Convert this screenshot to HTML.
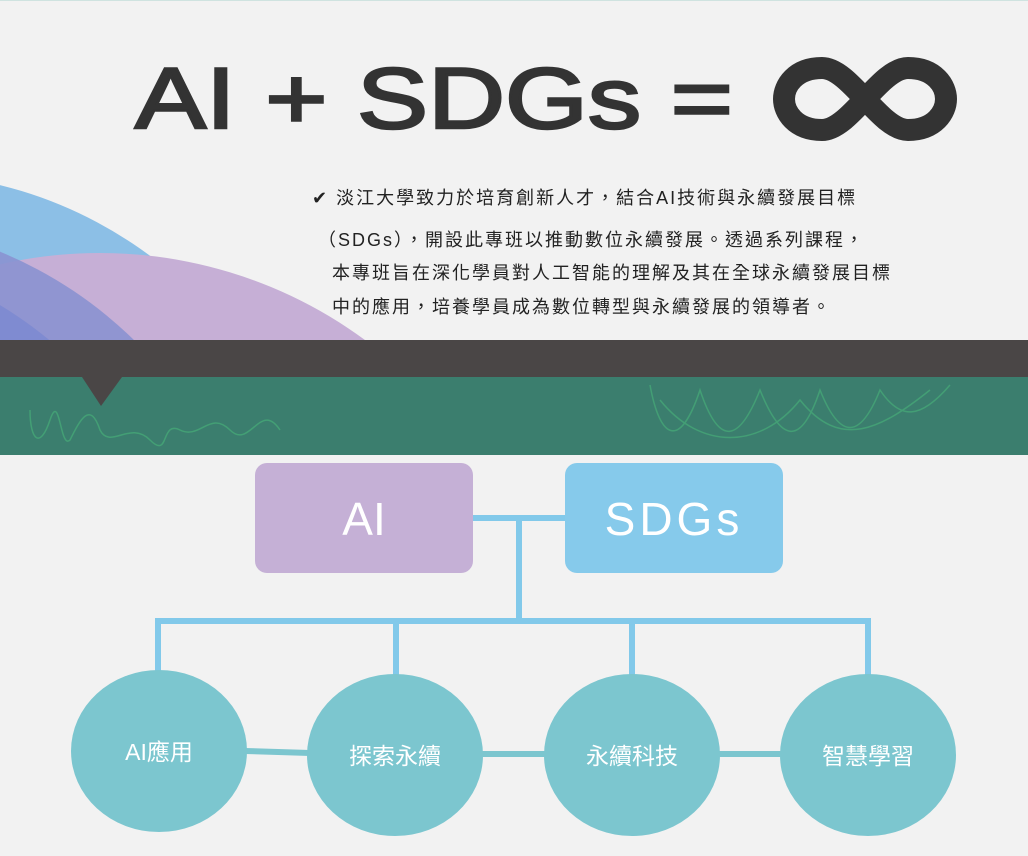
<!DOCTYPE html>
<html><head><meta charset="utf-8"><style>
html,body{margin:0;padding:0;width:1028px;height:856px;overflow:hidden;}
body{background:#f2f2f2;position:relative;font-family:"Liberation Sans","Noto Sans CJK TC",sans-serif;}
.t{position:absolute;}
.p{position:absolute;left:312px;font-size:18px;color:#222;letter-spacing:2px;white-space:nowrap;line-height:20px;}
</style></head><body>
<div style="position:absolute;left:0;top:0;width:1028px;height:1px;background:#cfe3e0"></div>
<svg class="t" style="left:0;top:0" width="1028" height="856">
  <defs><clipPath id="c"><rect x="0" y="0" width="1028" height="340"/></clipPath></defs>
  <g clip-path="url(#c)">
    <circle cx="-100" cy="592" r="419" fill="#8cbfe6"/>
    <circle cx="100" cy="700" r="447" fill="#c6afd6"/>
    <circle cx="-160" cy="640" r="420" fill="#8a92d0" opacity="0.9"/>
    <circle cx="-200" cy="640" r="390" fill="#7d8ad0" opacity="0.9"/>
    <circle cx="-260" cy="660" r="380" fill="#7862b8" opacity="0.9"/>
  </g>
  <rect x="0" y="340" width="1028" height="37" fill="#4a4646"/>
  <rect x="0" y="377" width="1028" height="78" fill="#3b7e6e"/>
  <polygon points="82,377 122,377 101,406" fill="#4a4646"/>
  <g fill="none" stroke="#46a777" stroke-width="1.5" opacity="0.8">
    <path d="M30,410 C30,440 40,450 50,420 C60,390 60,450 70,440 C80,420 90,400 100,430 C110,450 130,420 150,440 C170,460 160,420 180,430 C200,440 210,410 230,430 C250,450 260,400 280,430"/>
    <path d="M650,385 C660,440 680,450 700,390 C720,450 740,440 760,390 C780,440 800,450 820,390 C840,440 860,440 880,390 C900,420 920,420 950,385"/>
    <path d="M660,400 C700,450 760,450 800,400 C840,450 880,430 930,390"/>
  </g>
  <g stroke="#82c9ea" stroke-width="6" fill="none">
    <line x1="473" y1="518" x2="565" y2="518"/>
    <line x1="519" y1="518" x2="519" y2="621"/>
    <line x1="158" y1="621" x2="868" y2="621"/>
    <line x1="158" y1="618" x2="158" y2="672"/>
    <line x1="396" y1="618" x2="396" y2="676"/>
    <line x1="632" y1="618" x2="632" y2="676"/>
    <line x1="868" y1="618" x2="868" y2="676"/>
  </g>
  <g stroke="#7cc6cf" stroke-width="6">
    <line x1="245" y1="751" x2="310" y2="753"/>
    <line x1="480" y1="754" x2="546" y2="754"/>
    <line x1="716" y1="754" x2="782" y2="754"/>
  </g>
  <rect x="255" y="463" width="218" height="110" rx="12" fill="#c5b0d6"/>
  <rect x="565" y="463" width="218" height="110" rx="12" fill="#86caeb"/>
  <g fill="#7cc6cf">
    <ellipse cx="159" cy="751" rx="88" ry="81"/>
    <ellipse cx="395" cy="755" rx="88" ry="81"/>
    <ellipse cx="632" cy="755" rx="88" ry="81"/>
    <ellipse cx="868" cy="755" rx="88" ry="81"/>
  </g>
  <g fill="#fff" font-family="Liberation Sans,Noto Sans CJK TC,sans-serif" text-anchor="middle">
    <text x="364" y="535" font-size="46">AI</text>
    <text x="674" y="535" font-size="46" letter-spacing="4">SDGs</text>
    <text x="159" y="760" font-size="23">AI應用</text>
    <text x="395" y="764" font-size="23">探索永續</text>
    <text x="632" y="764" font-size="23">永續科技</text>
    <text x="868" y="764" font-size="23">智慧學習</text>
  </g>
  <text x="135" y="128" fill="#333" stroke="#333" stroke-width="2.5" font-family="Liberation Sans,sans-serif" font-size="86" textLength="598" lengthAdjust="spacingAndGlyphs">AI + SDGs =</text>
  <path d="M822,68 C795,68 784,86 784,99 C784,112 795,130 822,130 C850,130 880,68 908,68 C935,68 946,86 946,99 C946,112 935,130 908,130 C880,130 850,68 822,68 Z" fill="none" stroke="#333" stroke-width="22"/>
</svg>
<div class="p" style="top:188px">✔ 淡江大學致力於培育創新人才，結合AI技術與永續發展目標</div>
<div class="p" style="top:230px;left:318px">（SDGs），開設此專班以推動數位永續發展。透過系列課程，</div>
<div class="p" style="top:263px;left:332px">本專班旨在深化學員對人工智能的理解及其在全球永續發展目標</div>
<div class="p" style="top:297px;left:332px">中的應用，培養學員成為數位轉型與永續發展的領導者。</div>
</body></html>
